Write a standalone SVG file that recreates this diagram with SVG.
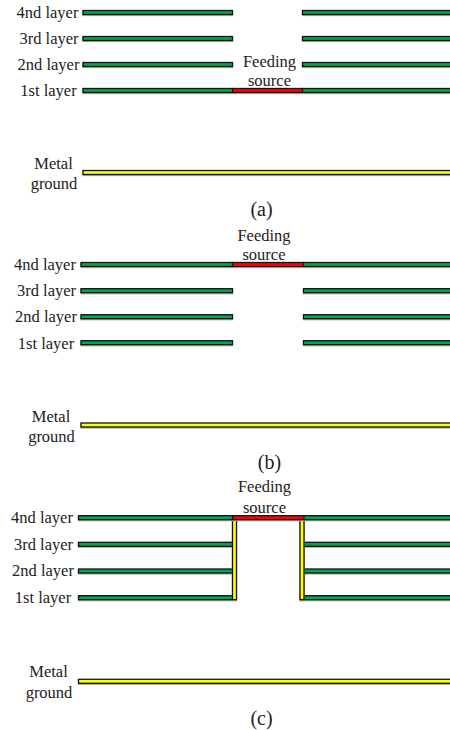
<svg xmlns="http://www.w3.org/2000/svg" width="450" height="730" viewBox="0 0 450 730">
<style>
text{font-family:"Liberation Serif","Times New Roman",serif;font-size:16.5px;fill:#222;text-anchor:middle}
text.cap{font-size:20px}
rect.g,rect.r,rect.y,rect.b{stroke:#111;stroke-width:1.3;filter:drop-shadow(0 1px 0 #b0b0b0)}
.g{fill:#00a651}
.r{fill:#f00}
.y{fill:#ff0}
.b{fill:#ff0}
</style>
<rect width="450" height="730" fill="#fff"/>
<g id="panel-a">
<g id="a-layer4"><rect class="g" x="83" y="10.500" width="149.500" height="4"/><rect class="g" x="302.500" y="10.500" width="148.500" height="4"/><text x="47.500" y="17.500">4nd layer</text></g>
<g id="a-layer3"><rect class="g" x="83" y="36.500" width="149.500" height="4"/><rect class="g" x="302.500" y="36.500" width="148.500" height="4"/><text x="49" y="43.700">3rd layer</text></g>
<g id="a-layer2"><rect class="g" x="83" y="62.500" width="149.500" height="4"/><rect class="g" x="302.500" y="62.500" width="148.500" height="4"/><text x="48.500" y="69.500">2nd layer</text></g>
<g id="a-layer1"><rect class="g" x="83" y="88.500" width="149.500" height="4"/><rect class="g" x="302.500" y="88.500" width="148.500" height="4"/><rect class="r" x="232.500" y="88.500" width="70" height="4"/><text x="48.500" y="96">1st layer</text></g>
<g id="a-source"><text x="269.500" y="66.500">Feeding</text><text x="269.500" y="86">source</text></g>
<g id="a-ground"><rect class="b" x="83" y="170.500" width="368" height="4"/><text x="53.500" y="168.500">Metal</text><text x="54" y="189">ground</text></g>
<text class="cap" x="261.500" y="216">(a)</text>
</g>
<g id="panel-b">
<g id="b-layer4"><rect class="g" x="81" y="262.500" width="151.500" height="4"/><rect class="g" x="303.500" y="262.500" width="147.500" height="4"/><rect class="r" x="232.500" y="262.500" width="71" height="4"/><text x="45" y="269.700">4nd layer</text></g>
<g id="b-layer3"><rect class="g" x="81" y="288.700" width="151.500" height="4"/><rect class="g" x="303.500" y="288.700" width="147.500" height="4"/><text x="46.500" y="295.700">3rd layer</text></g>
<g id="b-layer2"><rect class="g" x="81" y="314.700" width="151.500" height="4"/><rect class="g" x="303.500" y="314.700" width="147.500" height="4"/><text x="46" y="321.700">2nd layer</text></g>
<g id="b-layer1"><rect class="g" x="81" y="340.700" width="151.500" height="4"/><rect class="g" x="303.500" y="340.700" width="147.500" height="4"/><text x="46" y="349">1st layer</text></g>
<g id="b-source"><text x="264" y="240.500">Feeding</text><text x="264" y="260">source</text></g>
<g id="b-ground"><rect class="b" x="81" y="423" width="370" height="4"/><text x="51" y="421.700">Metal</text><text x="51.500" y="441.700">ground</text></g>
<text class="cap" x="269.500" y="469">(b)</text>
</g>
<g id="panel-c">
<g id="c-layer4"><rect class="g" x="78.500" y="515.700" width="154" height="4"/><rect class="g" x="304" y="515.700" width="147" height="4"/><text x="42" y="523.300">4nd layer</text></g>
<g id="c-layer3"><rect class="g" x="78.500" y="542.300" width="154" height="4"/><rect class="g" x="304" y="542.300" width="147" height="4"/><text x="43.500" y="550">3rd layer</text></g>
<g id="c-layer2"><rect class="g" x="78.500" y="569" width="154" height="4"/><rect class="g" x="304" y="569" width="147" height="4"/><text x="43" y="575.700">2nd layer</text></g>
<g id="c-layer1"><rect class="g" x="78.500" y="595.700" width="154" height="4"/><rect class="g" x="304" y="595.700" width="147" height="4"/><text x="43" y="603">1st layer</text></g>
<g id="c-vias"><rect class="y" x="232.500" y="519" width="4" height="80.700"/><rect class="y" x="300" y="519" width="4" height="80.700"/></g>
<g id="c-source"><rect class="r" x="232.500" y="515.700" width="71.500" height="4"/><text x="264.500" y="492.300">Feeding</text><text x="264.500" y="513.300">source</text></g>
<g id="c-ground"><rect class="b" x="78.500" y="679.300" width="372.500" height="4"/><text x="48.500" y="676.700">Metal</text><text x="49" y="697.700">ground</text></g>
<text class="cap" x="261.500" y="725">(c)</text>
</g>
</svg>
